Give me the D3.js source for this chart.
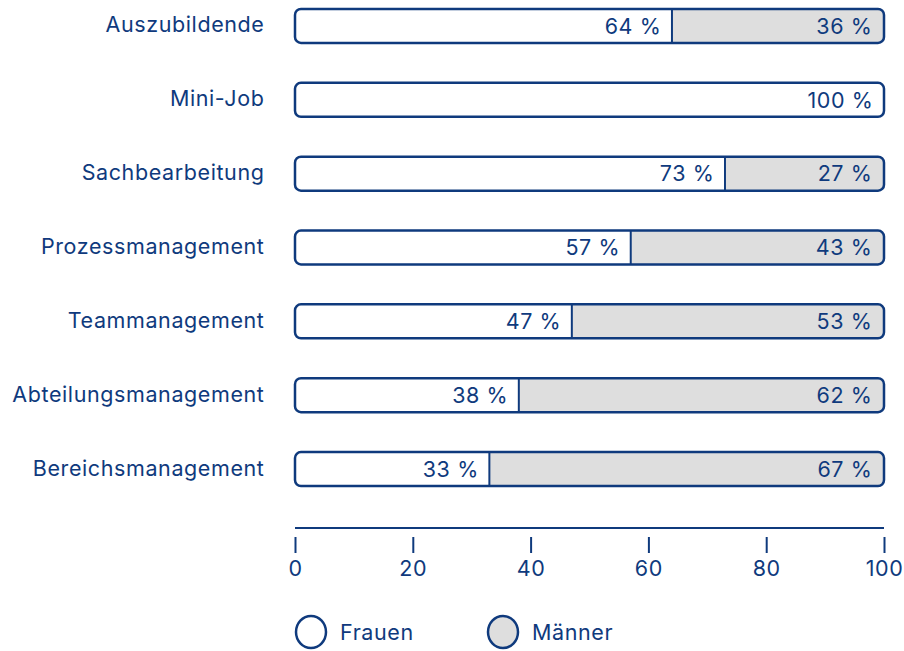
<!DOCTYPE html>
<html><head><meta charset="utf-8">
<script src="https://cdn.jsdelivr.net/npm/d3@7"></script>
<style>body{margin:0;background:#fff}svg{display:block}text{font-family:Inter,"Liberation Sans",sans-serif;letter-spacing:0.6px}</style>
</head><body>
<script>
const categories = ["Auszubildende","Mini-Job","Sachbearbeitung","Prozessmanagement","Teammanagement","Abteilungsmanagement","Bereichsmanagement"];
const frauen = [64,100,73,57,47,38,33];
const maenner = [36,0,27,43,53,62,67];
const ticks = [0,20,40,60,80,100];
const seriesNames = ["Frauen","Männer"];

const W=904,H=651, blue="#0f3a7d", gray="#dedede", fs=21.5;
const svg=d3.select("body").append("svg").attr("width",W).attr("height",H);
const x=d3.scaleLinear().domain([0,100]).range([295,884]);
const y=d3.scaleBand().domain(categories).range([-11,506]).paddingInner(0.54).paddingOuter(0.27);
const bh=y.bandwidth();

categories.forEach((c,i)=>{
  const g=svg.append("g");
  const y0=y(c);
  const id="clip"+i;
  g.append("clipPath").attr("id",id).append("rect").attr("x",x(0)).attr("y",y0).attr("width",x(100)-x(0)).attr("height",bh).attr("rx",6);
  const inner=g.append("g").attr("clip-path",`url(#${id})`);
  inner.append("rect").attr("x",x(0)).attr("y",y0).attr("width",x(frauen[i])-x(0)).attr("height",bh).attr("fill","#fff");
  if(maenner[i]>0){
    inner.append("rect").attr("x",x(frauen[i])).attr("y",y0).attr("width",x(100)-x(frauen[i])).attr("height",bh).attr("fill",gray);
    g.append("line").attr("x1",x(frauen[i])).attr("x2",x(frauen[i])).attr("y1",y0).attr("y2",y0+bh).attr("stroke",blue).attr("stroke-width",2);
  }
  g.append("rect").attr("x",x(0)).attr("y",y0).attr("width",x(100)-x(0)).attr("height",bh).attr("rx",6).attr("fill","none").attr("stroke",blue).attr("stroke-width",2.5);
  const cy=y0+bh/2;
  g.append("text").attr("x",x(frauen[i])-10.5).attr("y",cy).attr("dy","0.36em").attr("text-anchor","end").attr("font-size",fs).attr("fill",blue).text(frauen[i]+" %");
  if(maenner[i]>0) g.append("text").attr("x",x(100)-11.5).attr("y",cy).attr("dy","0.36em").attr("text-anchor","end").attr("font-size",fs).attr("fill",blue).text(maenner[i]+" %");
  g.append("text").attr("x",264.5).attr("y",cy).attr("dy","0.3em").attr("text-anchor","end").attr("font-size",fs).attr("fill",blue).text(c);
});

// axis
svg.append("line").attr("x1",x(0)).attr("x2",x(100)).attr("y1",528).attr("y2",528).attr("stroke",blue).attr("stroke-width",2);
const ax=svg.append("g").attr("transform","translate(0,537)").call(d3.axisBottom(x).tickValues(ticks).tickSize(16).tickPadding(8).tickFormat(d3.format("d")));
ax.select(".domain").remove();
ax.selectAll(".tick line").attr("stroke",blue).attr("stroke-width",2);
ax.selectAll(".tick text").attr("fill",blue).attr("font-size",fs).style("font-family","Inter,'Liberation Sans',sans-serif");

// legend
const leg=[{n:seriesNames[0],f:"#fff",cx:311},{n:seriesNames[1],f:gray,cx:503}];
leg.forEach(l=>{
  svg.append("ellipse").attr("cx",l.cx).attr("cy",632).attr("rx",15).attr("ry",16).attr("fill",l.f).attr("stroke",blue).attr("stroke-width",2.5);
  svg.append("text").attr("x",l.cx+29).attr("y",632).attr("dy","0.35em").attr("font-size",fs).attr("fill",blue).text(l.n);
});
</script>
</body></html>
